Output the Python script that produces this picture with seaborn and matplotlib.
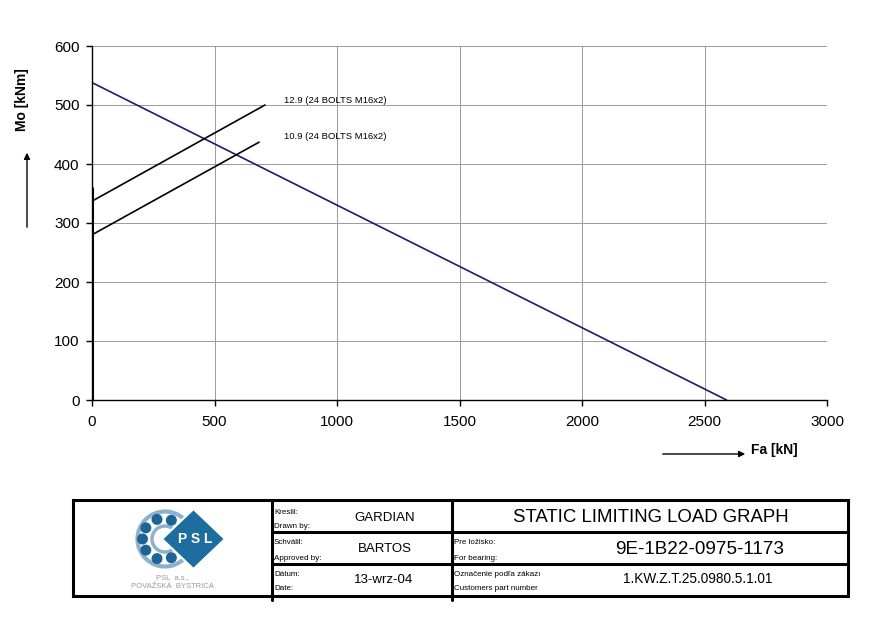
import numpy as np
import pandas as pd
import matplotlib
matplotlib.use("Agg")
import matplotlib.pyplot as plt
import matplotlib.patches as mpatches
import seaborn as sns

# values
fa_limit = [0, 2590]
mo_limit = [538, 0]
fa_129 = [0, 706]
mo_129 = [337, 500]
fa_109 = [0, 682]
mo_109 = [280, 437]
fa_bar = [0, 0]
mo_bar = [0, 360]
label_129 = "12.9 (24 BOLTS M16x2)"
label_109 = "10.9 (24 BOLTS M16x2)"
x_ticks = [0, 500, 1000, 1500, 2000, 2500, 3000]
y_ticks = [0, 100, 200, 300, 400, 500, 600]

sns.set_theme(style="white")
plt.rcParams['font.family'] = ['Liberation Sans', 'DejaVu Sans']
plt.rcParams['text.color'] = 'black'

W, H = 893, 627
fig = plt.figure(figsize=(W / 100, H / 100), dpi=100)

# main chart
ax = fig.add_axes([92 / W, (H - 400) / H, 735 / W, 354 / H])
df = pd.concat([
    pd.DataFrame({"Fa": fa_limit, "Mo": mo_limit, "s": "limit"}),
    pd.DataFrame({"Fa": fa_129, "Mo": mo_129, "s": "12.9"}),
    pd.DataFrame({"Fa": fa_109, "Mo": mo_109, "s": "10.9"}),
])
sns.lineplot(data=df, x="Fa", y="Mo", hue="s", sort=False, estimator=None,
             palette={"limit": "#1c1c6b", "12.9": "black", "10.9": "black"},
             linewidth=1.2, legend=False, ax=ax)
sns.lineplot(x=fa_bar, y=mo_bar, color="black", linewidth=2.2, sort=False,
             estimator=None, ax=ax)

ax.set_xlim(0, 3000)
ax.set_ylim(0, 600)
ax.set_xticks(x_ticks)
ax.set_yticks(y_ticks)
ax.grid(True, color="#9a9a9a", linewidth=0.7)
ax.set_axisbelow(True)
for s in ["top", "right"]:
    ax.spines[s].set_visible(False)
for s in ["left", "bottom"]:
    ax.spines[s].set_color("black")
    ax.spines[s].set_linewidth(1.0)
ax.tick_params(axis="both", which="both", length=4, width=1, color="black",
               labelcolor="black", direction="out", labelsize=11,
               bottom=True, left=True)
ax.tick_params(axis="x", pad=7)
ax.tick_params(axis="y", pad=5)
ax.set_xlabel("")
ax.set_ylabel("")
ax.text(785, 508, label_129, fontsize=6.8, va="center", ha="left")
ax.text(785, 446, label_109, fontsize=6.8, va="center", ha="left")

# overlay in pixel coordinates for axis titles and title block
ov = fig.add_axes([0, 0, 1, 1])
ov.set_xlim(0, W)
ov.set_ylim(H, 0)
ov.axis("off")
ov.patch.set_alpha(0)

ov.text(22, 100, "Mo [kNm]", rotation=90, ha="center", va="center",
        fontsize=10, fontweight="bold")
ov.annotate("", xy=(27, 150), xytext=(27, 230),
            arrowprops=dict(arrowstyle="-|>", color="black", lw=1, mutation_scale=9))
ov.text(751, 450, "Fa [kN]", ha="left", va="center", fontsize=10, fontweight="bold")
ov.annotate("", xy=(748, 454), xytext=(660, 454),
            arrowprops=dict(arrowstyle="-|>", color="black", lw=1, mutation_scale=9))

# title block
lw = 2.2
ov.add_patch(mpatches.Rectangle((73, 500), 775, 96, fill=False, lw=lw, ec="black"))
ov.plot([272, 272], [500, 600], color="black", lw=lw)
ov.plot([452, 452], [500, 600], color="black", lw=lw)
for yy in [532, 564]:
    ov.plot([272, 848], [yy, yy], color="black", lw=lw)

small = 5.8
ov.text(274, 512, "Kreslil:", fontsize=small, va="center")
ov.text(274, 527, "Drawn by:", fontsize=small, va="center")
ov.text(274, 543, "Schválil:", fontsize=small, va="center")
ov.text(274, 558, "Approved by:", fontsize=small, va="center")
ov.text(274, 574, "Dátum:", fontsize=small, va="center")
ov.text(274, 589, "Date:", fontsize=small, va="center")
ov.text(385, 518, "GARDIAN", fontsize=9.5, ha="center", va="center")
ov.text(385, 549, "BARTOS", fontsize=9.5, ha="center", va="center")
ov.text(384, 580, "13-wrz-04", fontsize=9.5, ha="center", va="center")

ov.text(651, 518, "STATIC LIMITING LOAD GRAPH", fontsize=13.4, ha="center", va="center")
ov.text(454, 542, "Pre ložisko:", fontsize=small, va="center")
ov.text(454, 558, "For bearing:", fontsize=small, va="center")
ov.text(700, 550, "9E-1B22-0975-1173", fontsize=13.6, ha="center", va="center")
ov.text(454, 574, "Označenie podľa zákazı", fontsize=small, va="center")
ov.text(454, 589, "Customers part number", fontsize=small, va="center")
ov.text(698, 579, "1.KW.Z.T.25.0980.5.1.01", fontsize=9.8, ha="center", va="center")

# PSL logo
cx, cy = 165, 539
ov.add_patch(mpatches.Circle((cx, cy), 27.5, fill=False, ec="#8fb0cc", lw=3))
ov.add_patch(mpatches.Circle((cx, cy), 13, fill=False, ec="#8fb0cc", lw=2.5))
for ang in np.deg2rad([66, 107, 147, 180, 213, 253, 294]):
    ov.add_patch(mpatches.Circle((cx - 2 + 20.5 * np.cos(ang), cy - 20.5 * np.sin(ang)),
                                 4.8, color="#1d6496"))
ov.add_patch(mpatches.Polygon([[162, 539], [193.5, 509], [225, 539], [193.5, 569]],
                              closed=True, fc="#1d6e9e", ec="white", lw=1.5, zorder=3))
ov.text(195, 539, "P S L", color="white", fontsize=10, fontweight="bold",
        ha="center", va="center", zorder=4)
ov.text(172, 578, "PSL  a.s.,", color="#999999", fontsize=5.5, ha="center", va="center")
ov.text(172, 587, "POVAŽSKÁ  BYSTRICA", color="#999999", fontsize=5.5,
        ha="center", va="center")

fig.savefig("out.png", dpi=100)
